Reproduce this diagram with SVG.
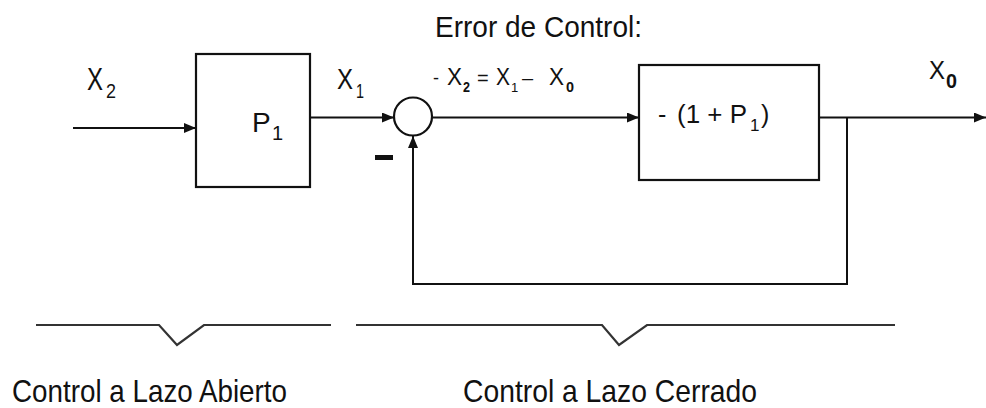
<svg xmlns="http://www.w3.org/2000/svg" width="986" height="408" viewBox="0 0 986 408">
<defs>
<style>
.ln{fill:none;stroke:#111;stroke-width:2}
.bx{fill:#fff;stroke:#111;stroke-width:2.2}
.t{font-family:"Liberation Sans",Arial,sans-serif;fill:#111}
.br{fill:none;stroke:#333;stroke-width:2.2;stroke-linejoin:miter}
</style>
<marker id="ah" markerWidth="12" markerHeight="10" refX="12" refY="5" orient="auto" markerUnits="userSpaceOnUse">
<path d="M0,0 L12,5 L0,10 Z" fill="#111"/>
</marker>
</defs>
<rect width="986" height="408" fill="#fff"/>
<g id="connectors">
<line class="ln" x1="73" y1="128" x2="196" y2="128" marker-end="url(#ah)"/>
<line class="ln" x1="310" y1="117.5" x2="394" y2="117.5" marker-end="url(#ah)"/>
<line class="ln" x1="432" y1="117.5" x2="639" y2="117.5" marker-end="url(#ah)"/>
<line class="ln" x1="819" y1="117.5" x2="986" y2="117.5" marker-end="url(#ah)"/>
<polyline class="ln" points="847,117.5 847,284 413,284 413,136" marker-end="url(#ah)"/>
</g>
<g id="node-p1">
<rect class="bx" x="196" y="54" width="114" height="133"/>
<text class="t" x="252" y="132" font-size="28">P</text>
<text class="t" x="272" y="140" font-size="20">1</text>
</g>
<g id="node-sum">
<circle class="bx" cx="413" cy="116.5" r="19"/>
<rect x="375" y="155" width="18" height="5" fill="#111"/>
</g>
<g id="node-p2">
<rect class="bx" x="639" y="65" width="180" height="115"/>
<text class="t" x="658" y="123" font-size="25">-</text>
<text class="t" x="677" y="123" font-size="25" textLength="70" lengthAdjust="spacingAndGlyphs">(1 + P</text>
<text class="t" x="750" y="131" font-size="17">1</text>
<text class="t" x="761" y="123" font-size="25">)</text>
</g>
<g id="labels">
<text class="t" x="87" y="90" font-size="31" textLength="16" lengthAdjust="spacingAndGlyphs">X</text>
<text class="t" x="106" y="98" font-size="21" textLength="10" lengthAdjust="spacingAndGlyphs">2</text>
<text class="t" x="337" y="89" font-size="30" textLength="16" lengthAdjust="spacingAndGlyphs">X</text>
<text class="t" x="356" y="98" font-size="21" textLength="8" lengthAdjust="spacingAndGlyphs">1</text>
<text class="t" x="929" y="79" font-size="26" textLength="16" lengthAdjust="spacingAndGlyphs">X</text>
<text class="t" x="946" y="88" font-size="20" font-weight="bold" textLength="11" lengthAdjust="spacingAndGlyphs">0</text>
<text class="t" x="435" y="37" font-size="29" textLength="207" lengthAdjust="spacingAndGlyphs">Error de Control:</text>
<text class="t" x="433" y="84" font-size="18">-</text>
<text class="t" x="447" y="85" font-size="23" textLength="15" lengthAdjust="spacingAndGlyphs">X</text>
<text class="t" x="463" y="92" font-size="15" font-weight="bold" textLength="7" lengthAdjust="spacingAndGlyphs">2</text>
<text class="t" x="477" y="85" font-size="20">=</text>
<text class="t" x="496" y="85" font-size="23" textLength="14" lengthAdjust="spacingAndGlyphs">X</text>
<text class="t" x="511" y="92" font-size="13">1</text>
<text class="t" x="522" y="85" font-size="20">–</text>
<text class="t" x="549" y="85" font-size="23" textLength="15" lengthAdjust="spacingAndGlyphs">X</text>
<text class="t" x="566" y="92" font-size="15" font-weight="bold" textLength="8" lengthAdjust="spacingAndGlyphs">0</text>
</g>
<g id="braces">
<polyline class="br" points="36,325 159,325 177,345 204,325 331,325"/>
<polyline class="br" points="356,325 602,325 619,345 647,325 895,325"/>
<text class="t" x="12" y="402" font-size="32" textLength="275" lengthAdjust="spacingAndGlyphs">Control a Lazo Abierto</text>
<text class="t" x="463" y="402" font-size="32" textLength="294" lengthAdjust="spacingAndGlyphs">Control a Lazo Cerrado</text>
</g>
</svg>
